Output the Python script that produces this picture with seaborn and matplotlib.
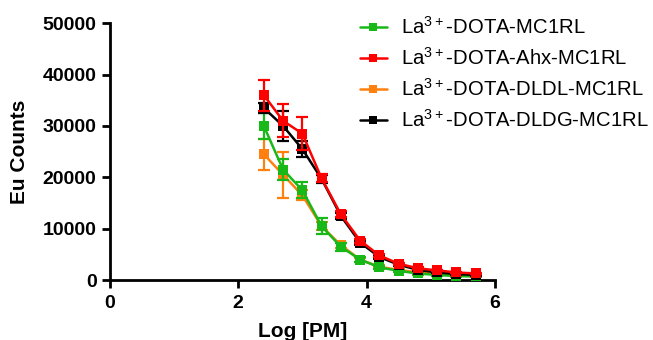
import numpy as np
import pandas as pd
import matplotlib
matplotlib.use("Agg")
import matplotlib.pyplot as plt
import seaborn as sns

log_pm = [2.4, 2.7, 3.0, 3.3, 3.6, 3.9, 4.2, 4.5, 4.8, 5.1, 5.4, 5.7]

series_names = [
    r"La$^{3+}$-DOTA-MC1RL",
    r"La$^{3+}$-DOTA-Ahx-MC1RL",
    r"La$^{3+}$-DOTA-DLDL-MC1RL",
    r"La$^{3+}$-DOTA-DLDG-MC1RL",
]

mc1rl = [30000, 21500, 17500, 10500, 6500, 4000, 2500, 1800, 1300, 1000, 800, 700]
mc1rl_err = [2500, 2000, 1500, 1500, 800, 500, 300, 200, 200, 150, 100, 100]

ahx = [36000, 31000, 28500, 19800, 12800, 7700, 4800, 3200, 2300, 1900, 1500, 1300]
ahx_err = [3000, 3200, 3200, 800, 600, 400, 300, 200, 200, 150, 100, 100]

dldl = [24500, 20500, 16500, 10500, 6800, 4000, 2600, 2000, 1500, 1200, 1000, 900]
dldl_err = [3000, 4500, 1000, 800, 500, 400, 300, 200, 150, 100, 100, 100]

dldg = [33500, 30000, 25500, 19700, 12500, 7300, 4500, 3000, 2000, 1500, 1200, 1000]
dldg_err = [1000, 3000, 1500, 800, 600, 400, 300, 200, 150, 100, 100, 100]

colors = ["#18B818", "#FF0000", "#FF800E", "#000000"]

values = [mc1rl, ahx, dldl, dldg]
errors = [mc1rl_err, ahx_err, dldl_err, dldg_err]

rows = []
for name, vals in zip(series_names, values):
    for x, v in zip(log_pm, vals):
        rows.append({"log": x, "counts": v, "series": name})
df = pd.DataFrame(rows)

sns.set_style("ticks")
plt.rcParams["font.family"] = ["Liberation Sans", "DejaVu Sans"]
plt.rcParams["mathtext.fontset"] = "custom"
plt.rcParams["mathtext.rm"] = "Liberation Sans"
for k in ["text.color", "axes.labelcolor", "xtick.color", "ytick.color", "axes.edgecolor"]:
    plt.rcParams[k] = "black"

fig = plt.figure(figsize=(6.53, 3.4), dpi=100)
ax = fig.add_axes([0.168, 0.176, 0.590, 0.756])

zorders = {0: 3, 1: 5, 2: 2, 3: 4}

sns.lineplot(data=df, x="log", y="counts", hue="series", hue_order=series_names,
             palette=colors, style="series", markers=["s"] * 4, dashes=False,
             markersize=7, markeredgewidth=0, linewidth=1.8, ax=ax, legend=True)
data_lines = list(ax.get_lines())[:4]
for i, line in enumerate(data_lines):
    line.set_zorder(zorders[i] + 0.5)

for i, (name, vals, errs) in enumerate(zip(series_names, values, errors)):
    ax.errorbar(log_pm, vals, yerr=errs, fmt="none", ecolor=colors[i],
                elinewidth=1.6, capsize=4, capthick=1.6, zorder=zorders[i])

ax.set_xlim(0, 6)
ax.set_ylim(0, 50000)
ax.set_xticks([0, 2, 4, 6])
ax.set_yticks([0, 10000, 20000, 30000, 40000, 50000])
ax.set_xlabel("Log [PM]", fontsize=15, fontweight="bold", labelpad=7)
ax.set_ylabel("Eu Counts", fontsize=15, fontweight="bold", labelpad=10)
for lab in ax.get_xticklabels() + ax.get_yticklabels():
    lab.set_fontweight("bold")
ax.tick_params(axis="both", labelsize=14, width=2, length=6, direction="out",
               colors="black")
ax.tick_params(axis="x", pad=5)
for s in ["top", "right"]:
    ax.spines[s].set_visible(False)
for s in ["left", "bottom"]:
    ax.spines[s].set_linewidth(2)

handles, labels = ax.get_legend_handles_labels()
ax.get_legend().remove()
handles = handles[-4:] if len(handles) > 4 else handles
for h in handles:
    h.set_markersize(6)
leg = fig.legend(handles, series_names, loc="upper left",
                 bbox_to_anchor=(0.551, 0.952), frameon=False, fontsize=14.6,
                 handlelength=1.35, labelspacing=0.45, handletextpad=0.7,
                 borderpad=0, borderaxespad=0)

fig.savefig("out.png", dpi=100)
